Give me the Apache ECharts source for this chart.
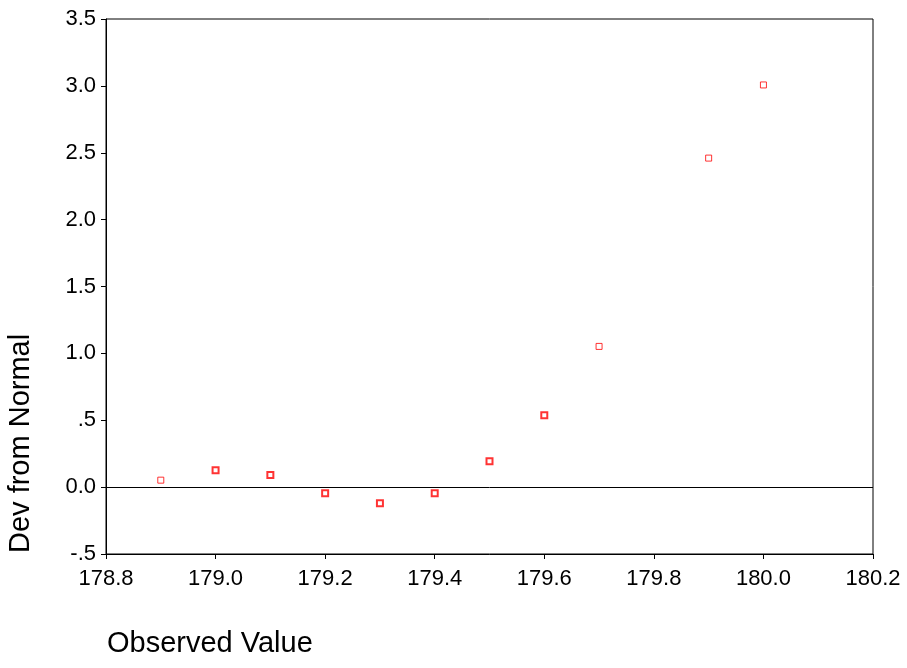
<!DOCTYPE html>
<html><head><meta charset="utf-8">
<script src="https://cdn.jsdelivr.net/npm/echarts@6/dist/echarts.min.js"></script>
<style>html,body{margin:0;padding:0;background:#fff}#c{width:907px;height:668px}</style>
</head><body><div id="c"></div>
<script>
// Observed values (single-observation points)
const singleX = [178.9, 179.7, 179.9, 180.0];
const singleY = [0.052, 1.052, 2.46, 3.007];
// Observed values with repeated observations (drawn heavier)
const multiX = [179.0, 179.1, 179.2, 179.3, 179.4, 179.5, 179.6];
const multiY = [0.127, 0.09, -0.045, -0.12, -0.045, 0.194, 0.537];
const xTicks = [178.8, 179.0, 179.2, 179.4, 179.6, 179.8, 180.0, 180.2];
const yTicks = [-0.5, 0, 0.5, 1, 1.5, 2, 2.5, 3, 3.5];

const FONT = 'Liberation Sans, Arial, sans-serif';
function fmtY(v){
  let s = (Math.round(v*10)/10).toFixed(1);
  if (s === '0.5') s = '.5';
  if (s === '-0.5') s = '-.5';
  return s;
}
const chart = echarts.init(document.getElementById('c'));
chart.setOption({
  animation: false,
  grid: {left: 106, top: 19, right: 34, bottom: 114, show: true, borderColor: '#000', borderWidth: 1},
  xAxis: {
    type: 'value', min: xTicks[0], max: xTicks[xTicks.length-1], interval: 0.2,
    axisLine: {show: true, onZero: false, lineStyle: {color: '#000'}},
    axisTick: {show: true, length: 5, lineStyle: {color: '#000'}},
    splitLine: {show: false},
    axisLabel: {color: '#000', fontSize: 22, fontFamily: FONT, margin: 14,
      formatter: v => v.toFixed(1)}
  },
  yAxis: {
    type: 'value', min: yTicks[0], max: yTicks[yTicks.length-1], interval: 0.5,
    axisLine: {show: true, onZero: false, lineStyle: {color: '#000'}},
    axisTick: {show: true, length: 5, lineStyle: {color: '#000'}},
    splitLine: {show: false},
    axisLabel: {color: '#000', fontSize: 22, fontFamily: FONT, margin: 10, formatter: fmtY}
  },
  graphic: [
    {type: 'text', left: 107, top: 629, style: {text: 'Observed Value', fontSize: 29, fontFamily: FONT, fill: '#000'}},
    {type: 'text', x: 6, y: 553, rotation: Math.PI/2, style: {text: 'Dev from Normal', fontSize: 29, fontFamily: FONT, fill: '#000'}}
  ],
  series: [
    {type: 'line', data: [], markLine: {symbol: 'none', silent: true, label: {show: false},
      lineStyle: {color: '#000', type: 'solid', width: 1}, data: [{yAxis: 0}]}},
    {type: 'scatter', symbol: 'rect', symbolSize: 6,
      itemStyle: {color: '#fff', borderColor: '#ff0000', borderWidth: 1},
      data: singleX.map((x, i) => [x, singleY[i]])},
    {type: 'scatter', symbol: 'rect', symbolSize: 6,
      itemStyle: {color: '#fff', borderColor: '#ff0000', borderWidth: 2},
      data: multiX.map((x, i) => [x, multiY[i]])}
  ]
});
</script></body></html>
